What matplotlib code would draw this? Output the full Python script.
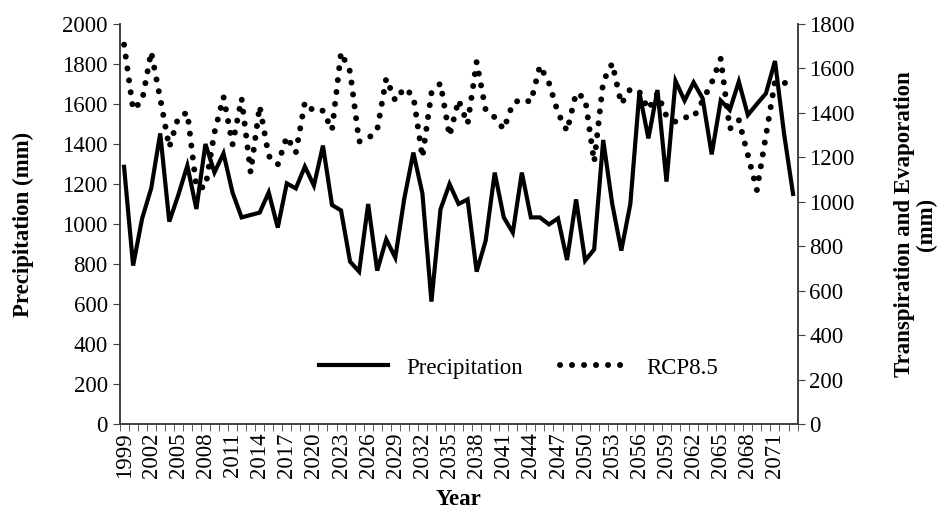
import numpy as np
import matplotlib
matplotlib.use('Agg')
import matplotlib.pyplot as plt

# years on the category axis
years = list(range(1999, 2074))

# precipitation (left axis, mm)
precipitation = [1286, 792, 1028, 1178, 1453, 1012, 1145, 1292, 1075, 1400,
                 1258, 1353, 1157, 1033, 1045, 1057, 1158, 982, 1203, 1178,
                 1287, 1192, 1392, 1095, 1068, 812, 762, 1100, 767, 923,
                 832, 1128, 1357, 1153, 612, 1073, 1200, 1100, 1123, 762,
                 917, 1257, 1033, 957, 1257, 1033, 1033, 998, 1028, 820,
                 1123, 817, 873, 1420, 1100, 867, 1100, 1657, 1428, 1670,
                 1212, 1715, 1617, 1708, 1628, 1348, 1617, 1570, 1712, 1545,
                 1600, 1653, 1815, 1453, 1150]

# RCP8.5 transpiration and evaporation (right axis, mm)
rcp85 = [1707, 1415, 1455, 1675, 1464, 1245, 1380, 1402, 1065, 1065,
         1312, 1472, 1258, 1465, 1132, 1431, 1206, 1167, 1293, 1221,
         1448, 1407, 1410, 1323, 1672, 1586, 1271, 1285, 1323, 1555,
         1455, 1512, 1475, 1200, 1490, 1533, 1296, 1458, 1350, 1629,
         1413, 1380, 1326, 1443, 1462, 1449, 1612, 1535, 1400, 1318,
         1490, 1465, 1179, 1541, 1623, 1440, 1508, 1495, 1416, 1488,
         1385, 1360, 1380, 1380, 1455, 1536, 1644, 1328, 1368, 1210,
         1053, 1298, 1541, 1533, 1550]

left_ticks = list(range(0, 2001, 200))
right_ticks = list(range(0, 1801, 200))

plt.rcParams['font.family'] = ['Liberation Serif', 'DejaVu Serif']
fs = 16.5
edge = '#404040'

fig = plt.figure(figsize=(9.45, 5.15), dpi=100)
ax = fig.add_axes([0.1265, 0.1767, 0.7175, 0.7767])
ax2 = ax.twinx()

x = np.arange(len(years))
l1, = ax.plot(x, precipitation, color='black', lw=3, solid_joinstyle='miter',
              label='Precipitation')
l2, = ax2.plot(x, rcp85, color='black', lw=4.3, linestyle=(0, (0.01, 2.0)),
               dash_capstyle='round', label='RCP8.5')

ax.set_xlim(-0.5, len(years) - 0.5)
ax.set_ylim(0, 2000)
ax2.set_ylim(0, 1800)
ax.set_yticks(left_ticks)
ax2.set_yticks(right_ticks)

# labels every third year, tick marks between categories
ax.set_xticks(x[::3])
ax.set_xticklabels([str(y) for y in years[::3]], rotation=90, fontsize=fs)
ax.set_xticks(np.arange(-0.5, len(years), 1), minor=True)
ax.tick_params(axis='x', which='major', length=0, pad=6)
ax.tick_params(axis='x', which='minor', length=5, direction='out', color=edge)
ax.tick_params(axis='y', length=5, direction='out', labelsize=fs, color=edge)
ax2.tick_params(axis='y', length=5, direction='out', labelsize=fs, color=edge)

for a in (ax, ax2):
    a.spines['top'].set_visible(False)
    for s in ('left', 'right', 'bottom'):
        a.spines[s].set_color(edge)
        a.spines[s].set_linewidth(1.2)

ax.set_xlabel('Year', fontsize=fs, fontweight='bold', va='top')
ax.xaxis.set_label_coords(0.5, -0.163)
ax.set_ylabel('Precipitation (mm)', fontsize=fs, fontweight='bold',
              va='center')
ax.yaxis.set_label_coords(-0.142, 0.5)
ax2.set_ylabel('Transpiration and Evaporation\n(mm)', fontsize=fs,
               fontweight='bold', rotation=90, va='center', ha='center',
               multialignment='center', linespacing=1.0)
ax2.yaxis.set_label_coords(1.174, 0.5)

ax.legend([l1, l2], ['Precipitation', 'RCP8.5'], loc='center',
          bbox_to_anchor=(0.589, 0.14), ncol=2, frameon=False,
          fontsize=fs, handlelength=3.0, columnspacing=1.6)

fig.savefig('out.png', dpi=100)
